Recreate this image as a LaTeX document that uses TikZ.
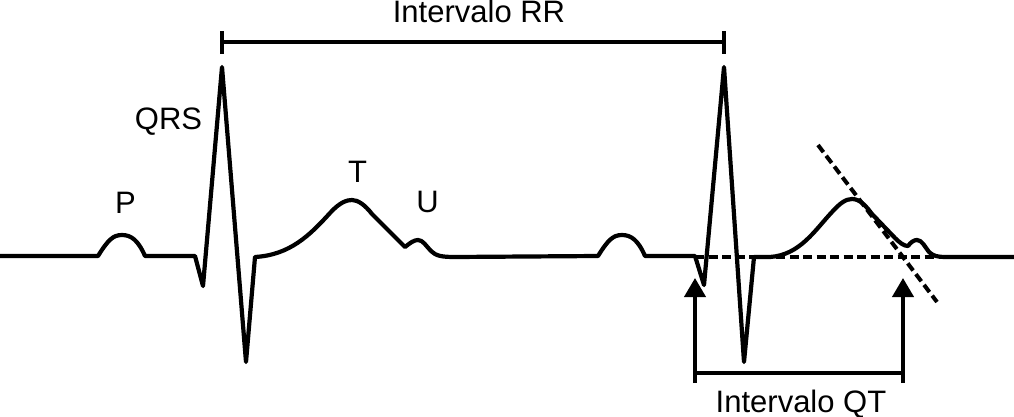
\documentclass[tikz,border=0pt]{standalone}
\usepackage{fontspec}
\setmainfont{Liberation Sans}
\usetikzlibrary{arrows.meta}
\begin{document}
\begin{tikzpicture}[x=1pt,y=-1pt,
  trace/.style={line width=4.2pt,line join=round,line cap=butt},
  guide/.style={line width=4pt,dash pattern=on 9pt off 4.5pt},
  bar/.style={line width=4pt},
  lbl/.style={anchor=base,inner sep=0pt,font=\fontsize{31}{36}\selectfont},
  qtarrow/.style={line width=4pt,-{Triangle[width=21pt,length=19pt]}}]
\useasboundingbox (0,0) rectangle (1014,417);
% ECG trace
\draw[trace] (0,256) -- (98,256)
  .. controls (108,240) and (113,235) .. (122,235)
  .. controls (131,235) and (138,240) .. (145,256)
  -- (195,256) -- (203,286) -- (222,67) -- (246,362) -- (255,257)
  .. controls (290,255) and (310,235) .. (330,213)
  .. controls (340,202) and (347,200) .. (352,200)
  .. controls (358,200) and (365,205) .. (372,214)
  -- (405,247)
  .. controls (410,243) and (414,240) .. (418,240)
  .. controls (423,240) and (426,246) .. (431,251)
  .. controls (436,256) and (442,257) .. (455,257)
  -- (598,256)
  .. controls (608,240) and (613,235) .. (622,235)
  .. controls (631,235) and (638,240) .. (645,256)
  -- (695,256) -- (704,285) -- (724,67) -- (744,362) -- (754,257)
  -- (770,257)
  .. controls (800,255) and (815,230) .. (832,212)
  .. controls (840,203) and (846,199) .. (852,199)
  .. controls (860,199) and (866,206) .. (872,214)
  -- (895,238)
  .. controls (900,243) and (904,246) .. (908,246)
  .. controls (911,242) and (914,240) .. (917,240)
  .. controls (922,240) and (925,247) .. (929,252)
  .. controls (933,256) and (938,257) .. (945,257)
  -- (1014,257);
% dashed guides
\coordinate (b1) at (695,257);
\coordinate (b2) at (935,257);
\coordinate (t1) at (818,145);
\coordinate (t2) at (937,302);
\draw[guide] (b1) -- (b2);
\draw[guide] (t1) -- (t2);
% RR interval
\coordinate (rr1) at (222,42);
\coordinate (rr2) at (724,42);
\draw[bar] (rr1) -- (rr2);
\draw[bar] ([yshift=-12pt]rr1) -- ([yshift=11pt]rr1);
\draw[bar] ([yshift=-12pt]rr2) -- ([yshift=11pt]rr2);
\node[lbl] (rrlabel) at (479,23) {Intervalo RR};
% QT interval
\coordinate (q0) at (695,383);
\coordinate (q1) at (695,278);
\coordinate (e0) at (903,383);
\coordinate (e1) at (903,278);
\coordinate (h1) at (695,373);
\coordinate (h2) at (903,373);
\draw[qtarrow] (q0) -- (q1);
\draw[qtarrow] (e0) -- (e1);
\draw[bar] (h1) -- (h2);
\node[lbl] (qtlabel) at (801,412) {Intervalo QT};
% wave labels
\node[lbl] (qrs) at (168.5,130) {QRS};
\node[lbl] (p) at (125.5,213) {P};
\node[lbl] (t) at (357.5,182) {T};
\node[lbl] (u) at (427.5,212) {U};
\end{tikzpicture}
\end{document}
